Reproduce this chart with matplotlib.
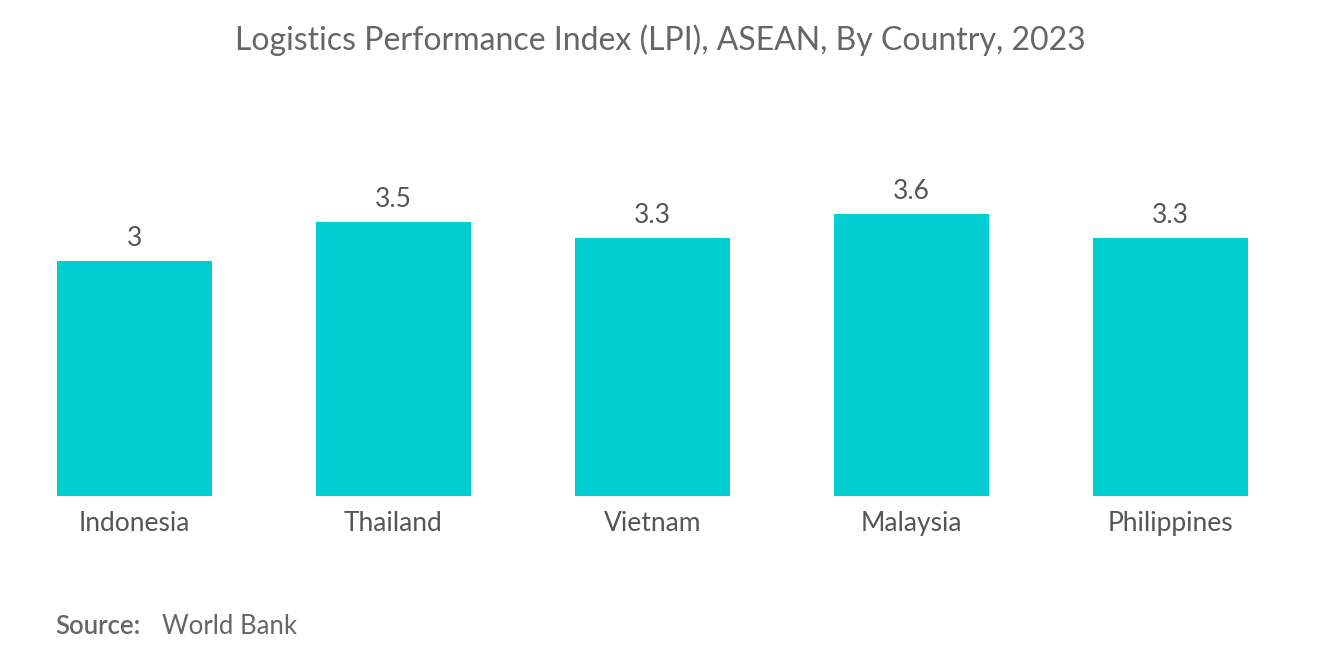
import matplotlib.pyplot as plt

plt.rcParams["font.family"] = "Lato"

countries = ["Indonesia", "Thailand", "Vietnam", "Malaysia", "Philippines"]
lpi = [3.0, 3.5, 3.3, 3.6, 3.3]
labels = ["3", "3.5", "3.3", "3.6", "3.3"]

fig = plt.figure(figsize=(13.2, 6.62), dpi=100)
ax = fig.add_axes([5 / 1320, 166 / 662, 1295 / 1320, 352 / 662])

bars = ax.bar(range(len(countries)), lpi, width=0.6, color="#00CED1")
for b, lab in zip(bars, labels):
    ax.text(b.get_x() + b.get_width() / 2, b.get_height() + 0.13, lab,
            ha="center", va="bottom", fontsize=19, color="#555555")

ax.set_xlim(-0.5, 4.5)
ax.set_ylim(0, 4.5)
ax.set_xticks(range(len(countries)))
ax.set_xticklabels(countries, fontsize=19, color="#555555")
ax.tick_params(axis="x", length=0, pad=11)
ax.set_yticks([])
for s in ax.spines.values():
    s.set_visible(False)

fig.text(0.5, 1 - 40 / 662, "Logistics Performance Index (LPI), ASEAN, By Country, 2023",
         ha="center", va="center", fontsize=23, color="#666666")
fig.text(55 / 1320, 1 - 627 / 662, "Source:", ha="left", va="center",
         fontsize=18.5, color="#666666", fontweight="semibold")
fig.text(162 / 1320, 1 - 627 / 662, "World Bank", ha="left", va="center",
         fontsize=18.5, color="#666666")

fig.savefig("out.png", dpi=100)
